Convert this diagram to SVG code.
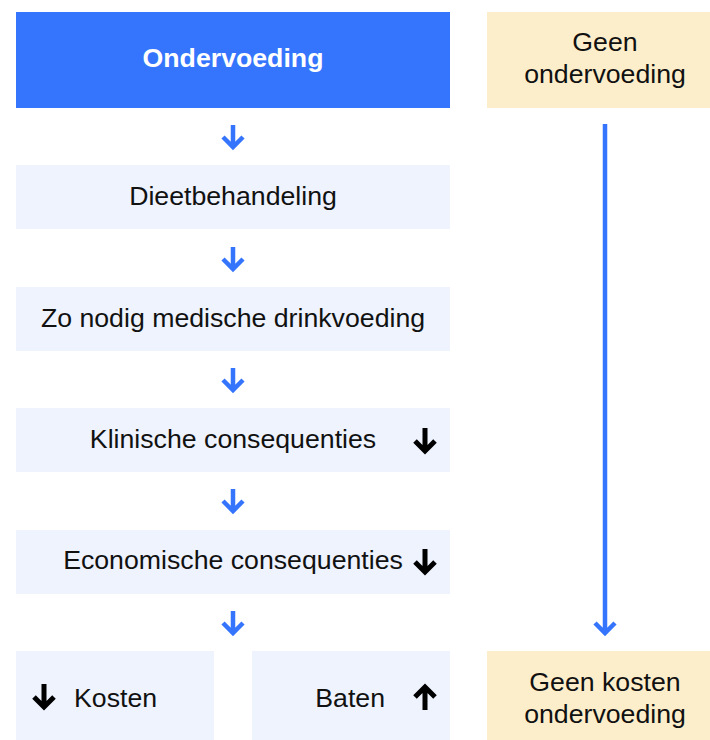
<svg xmlns="http://www.w3.org/2000/svg" width="710" height="740" viewBox="0 0 710 740">
<style>
.t{font-family:"Liberation Sans",Arial,sans-serif;font-size:26.7px;fill:#111}
.b{fill:#EEF3FE}
.y{fill:#FDEECB}
.ba{fill:none;stroke:#3575FE;stroke-width:4.5}
.ka{fill:none;stroke:#000;stroke-width:5}
</style>
<defs>
<g id="sa"><path class="ba" d="M0,-12V10M-10,0L0,10L10,0"/></g>
<g id="kd"><path class="ka" d="M0,-13V10M-10,0L0,10L10,0"/></g>
<g id="ku"><path class="ka" d="M0,13V-10M-10,0L0,-10L10,0"/></g>
</defs>
<g id="n-ondervoeding"><rect x="16" y="12" width="434" height="96" fill="#3575FE"/><text class="t" x="233" y="67" text-anchor="middle" style="fill:#fff;font-weight:bold">Ondervoeding</text></g>
<g id="n-geen"><rect class="y" x="487" y="12" width="223" height="96"/><text class="t" x="605" y="51" text-anchor="middle">Geen</text><text class="t" x="605" y="83" text-anchor="middle">ondervoeding</text></g>
<g id="n-dieet"><rect class="b" x="16" y="165" width="434" height="64"/><text class="t" x="233" y="205" text-anchor="middle">Dieetbehandeling</text></g>
<g id="n-zonodig"><rect class="b" x="16" y="287" width="434" height="64"/><text class="t" x="233" y="327" text-anchor="middle">Zo nodig medische drinkvoeding</text></g>
<g id="n-klinisch"><rect class="b" x="16" y="408" width="434" height="64"/><text class="t" x="233" y="448" text-anchor="middle">Klinische consequenties</text><use href="#kd" x="425" y="441"/></g>
<g id="n-econ"><rect class="b" x="16" y="530" width="434" height="64"/><text class="t" x="233" y="569" text-anchor="middle">Economische consequenties</text><use href="#kd" x="425" y="562"/></g>
<g id="n-kosten"><rect class="b" x="16" y="651" width="198" height="89"/><use href="#kd" x="44" y="697"/><text class="t" x="74" y="707">Kosten</text></g>
<g id="n-baten"><rect class="b" x="252" y="651" width="198" height="89"/><text class="t" x="385" y="707" text-anchor="end">Baten</text><use href="#ku" x="425" y="697"/></g>
<g id="n-geenkosten"><rect class="y" x="487" y="651" width="223" height="89"/><text class="t" x="605" y="691" text-anchor="middle">Geen kosten</text><text class="t" x="605" y="723" text-anchor="middle">ondervoeding</text></g>
<g id="connectors">
<use href="#sa" x="233" y="137"/>
<use href="#sa" x="233" y="259"/>
<use href="#sa" x="233" y="380"/>
<use href="#sa" x="233" y="501"/>
<use href="#sa" x="233" y="623"/>
<path class="ba" d="M605,124V633M595,623L605,633L615,623"/>
</g>
</svg>
